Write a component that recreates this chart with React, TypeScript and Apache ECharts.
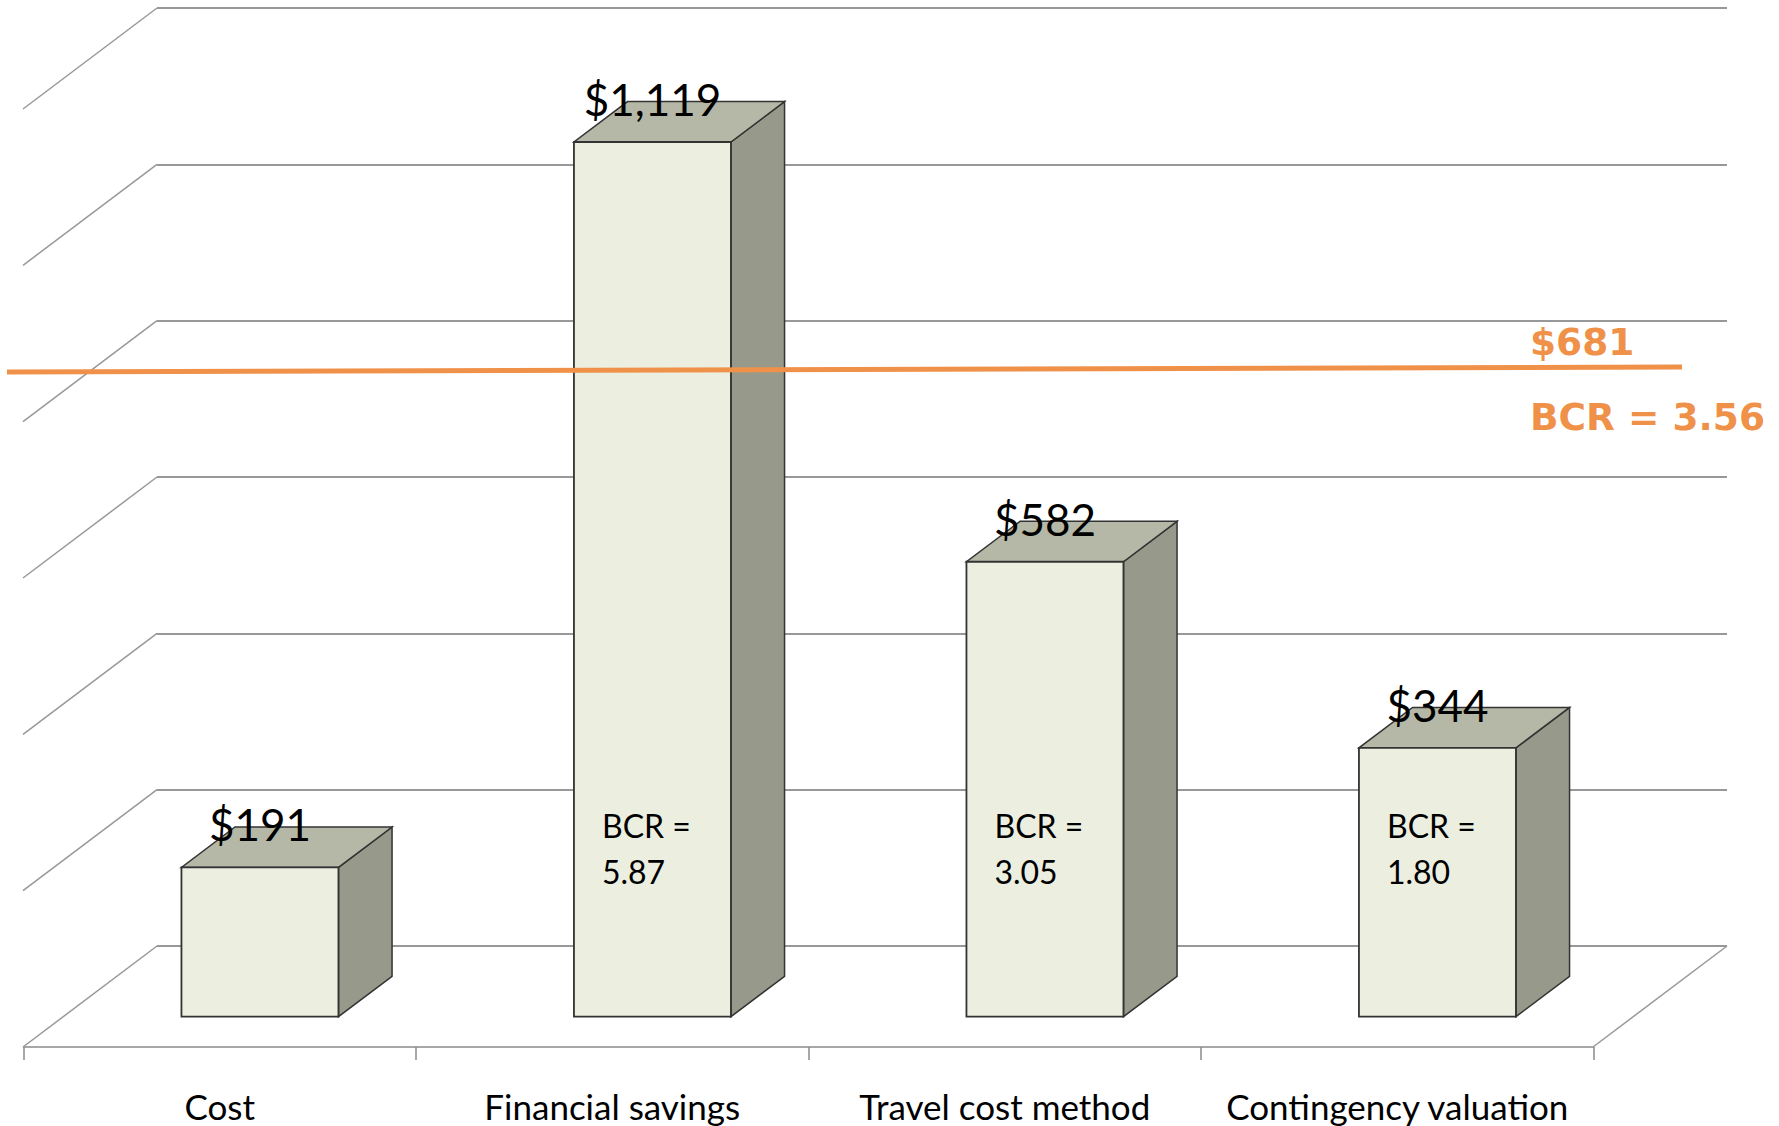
import React, { useEffect, useRef } from "react";
import * as echarts from "echarts";

const categories = ["Cost", "Financial savings", "Travel cost method", "Contingency valuation"];
const values = [191, 1119, 582, 344];
const bcrLabels = ["", "BCR =\n5.87", "BCR =\n3.05", "BCR =\n1.80"];
const yTicks = [0, 200, 400, 600, 800, 1000, 1200];
const avgLabel = "$681";
const avgBcrLabel = "BCR = 3.56";

// layout constants (oblique 3D projection)
const DX = 134;
const DY = -101;
const FRONT = 0.3; // depth of bar front face
const BAR_DEPTH = 0.4;
const BAR_WIDTH = 0.4;

const FRONT_COLOR = "#ECEFE0";
const TOP_COLOR = "#B5B8A6";
const SIDE_COLOR = "#979A8A";
const EDGE = "#333333";
const GRID_COLOR = "#989898";
const ORANGE = "#F0914A";

function fmt(v: number) {
  return "$" + v.toLocaleString("en-US");
}

export default function App() {
  const ref = useRef<HTMLDivElement>(null);
  useEffect(() => {
    if (!ref.current) return;
    const chart = echarts.init(ref.current, null, { renderer: "svg" });
    const option: any = {
      animation: false,
      backgroundColor: "#ffffff",
      grid: [
        { left: 157, top: 8, width: 1570, height: 938 },
        { left: 23.5, top: 109, width: 1570, height: 938 },
      ],
      xAxis: [
        {
          type: "category",
          gridIndex: 0,
          data: categories,
          axisLine: { show: false },
          axisTick: { show: false },
          axisLabel: { show: false },
        },
        {
          type: "category",
          gridIndex: 1,
          data: categories,
          axisLine: { show: true, lineStyle: { color: "#8A8A8A", width: 1.5 } },
          axisTick: { show: true, length: 13, lineStyle: { color: "#8A8A8A", width: 1.5 } },
          axisLabel: {
            show: true,
            margin: 41,
            color: "#000000",
            fontFamily: "Lato",
            fontSize: 35,
            interval: 0,
          },
        },
      ],
      yAxis: [
        {
          type: "value",
          gridIndex: 0,
          min: 0,
          max: 1200,
          interval: 200,
          axisLine: { show: false },
          axisTick: { show: false },
          axisLabel: { show: false },
          splitLine: { show: true, lineStyle: { color: GRID_COLOR, width: 2 } },
        },
        {
          type: "value",
          gridIndex: 1,
          min: 0,
          max: 1200,
          interval: 200,
          show: false,
          splitLine: { show: false },
        },
      ],
      series: [
        {
          type: "custom",
          xAxisIndex: 0,
          yAxisIndex: 0,
          data: yTicks.map((v) => [0, v]),
          z: 1,
          renderItem: (params: any, api: any) => {
            const cs = params.coordSys;
            const p = api.coord([0, api.value(1)]);
            return {
              type: "line",
              shape: { x1: cs.x, y1: p[1], x2: cs.x - DX, y2: p[1] - DY },
              style: { stroke: GRID_COLOR, lineWidth: 1.5 },
            };
          },
        },
        {
          type: "custom",
          xAxisIndex: 0,
          yAxisIndex: 0,
          data: [[3, 0]],
          z: 1,
          renderItem: (params: any, api: any) => {
            const cs = params.coordSys;
            const p = api.coord([3, 0]);
            return {
              type: "line",
              shape: { x1: cs.x + cs.width, y1: p[1], x2: cs.x + cs.width - DX, y2: p[1] - DY },
              style: { stroke: GRID_COLOR, lineWidth: 1.5 },
            };
          },
        },
        {
          type: "custom",
          xAxisIndex: 1,
          yAxisIndex: 1,
          z: 5,
          data: values.map((v, i) => [i, v]),
          renderItem: (params: any, api: any) => {
            const idx = api.value(0);
            const val = api.value(1);
            const base = api.coord([idx, 0]);
            const top = api.coord([idx, val]);
            const bw = api.size([1, 0])[0];
            const w = bw * BAR_WIDTH;
            const fx = FRONT * DX;
            const fy = FRONT * DY;
            const x0 = base[0] + fx - w / 2;
            const x1 = x0 + w;
            const yb = base[1] + fy;
            const yt = top[1] + fy;
            const bdx = BAR_DEPTH * DX;
            const bdy = BAR_DEPTH * DY;
            const children: any[] = [
              {
                type: "polygon",
                shape: { points: [[x1, yt], [x1 + bdx, yt + bdy], [x1 + bdx, yb + bdy], [x1, yb]] },
                style: { fill: SIDE_COLOR, stroke: EDGE, lineWidth: 1.5 },
              },
              {
                type: "polygon",
                shape: { points: [[x0, yt], [x1, yt], [x1 + bdx, yt + bdy], [x0 + bdx, yt + bdy]] },
                style: { fill: TOP_COLOR, stroke: EDGE, lineWidth: 1.5 },
              },
              {
                type: "rect",
                shape: { x: x0, y: yt, width: w, height: yb - yt },
                style: { fill: FRONT_COLOR, stroke: EDGE, lineWidth: 1.8 },
              },
              {
                type: "text",
                style: {
                  text: fmt(val),
                  x: x0 + w / 2,
                  y: yt - 43,
                  fill: "#000000",
                  fontFamily: "Lato",
                  fontSize: 44,
                  align: "center",
                  verticalAlign: "middle",
                },
              },
            ];
            const bcr = bcrLabels[idx];
            if (bcr) {
              children.push({
                type: "text",
                style: {
                  text: bcr,
                  x: x0 + 28,
                  y: yb - 168,
                  fill: "#000000",
                  fontFamily: "Lato",
                  fontSize: 32,
                  lineHeight: 46,
                  align: "left",
                  verticalAlign: "middle",
                },
              });
            }
            return { type: "group", children };
          },
        },
      ],
      graphic: [
        {
          type: "line",
          z: 100,
          shape: { x1: 7, y1: 372, x2: 1682, y2: 367 },
          style: { stroke: ORANGE, lineWidth: 5 },
        },
        {
          type: "text",
          z: 100,
          style: {
            text: avgLabel,
            x: 1530,
            y: 342,
            fill: ORANGE,
            fontFamily: "DejaVu Sans",
            fontWeight: "bold",
            fontSize: 37.5,
            align: "left",
            verticalAlign: "middle",
          },
        },
        {
          type: "text",
          z: 100,
          style: {
            text: avgBcrLabel,
            x: 1530,
            y: 417,
            fill: ORANGE,
            fontFamily: "DejaVu Sans",
            fontWeight: "bold",
            fontSize: 37.5,
            align: "left",
            verticalAlign: "middle",
          },
        },
      ],
    };
    chart.setOption(option);
    return () => chart.dispose();
  }, []);
  return (
    <div
      ref={ref}
      style={{ position: "fixed", left: 0, top: 0, width: 1779, height: 1126, background: "#fff" }}
    />
  );
}
